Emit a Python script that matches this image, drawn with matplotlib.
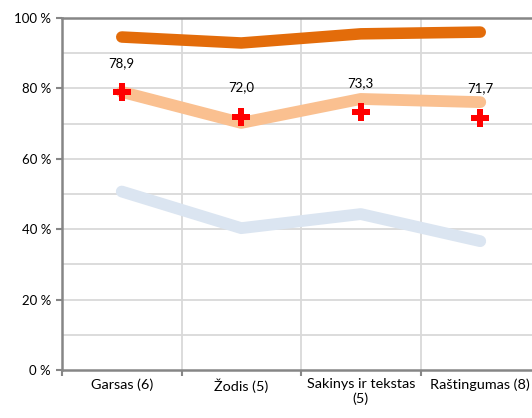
import matplotlib
matplotlib.use("Agg")
import matplotlib.pyplot as plt
import numpy as np

categories = ["Garsas (6)", "Žodis (5)", "Sakinys ir tekstas\n(5)", "Raštingumas (8)"]
dark_orange = [94.6, 92.9, 95.5, 96.0]
light_orange = [79.0, 70.2, 77.0, 76.1]
light_blue = [50.7, 40.3, 44.3, 36.6]
red_marks = [78.9, 72.0, 73.3, 71.7]
red_labels = ["78,9", "72,0", "73,3", "71,7"]
yticks = [0, 20, 40, 60, 80, 100]
ytick_labels = ["0 %", "20 %", "40 %", "60 %", "80 %", "100 %"]

plt.rcParams['font.family'] = ['Lato', 'DejaVu Sans']

fig = plt.figure(figsize=(5.32, 4.18), dpi=100)
ax = fig.add_axes([62/532, 48/418, 478/532, 352/418])

x = np.arange(len(categories))
ax.set_xlim(-0.5, 3.5)
ax.set_ylim(0, 100)

# gridlines
for yv in range(10, 101, 10):
    ax.axhline(yv, color="#d9d9d9", lw=1.3, zorder=0)
for xv in [0.5, 1.5, 2.5]:
    ax.axvline(xv, color="#d9d9d9", lw=1.3, zorder=0)

ax.plot(x, light_blue, color="#dbe5f1", lw=8.5, solid_capstyle="round", solid_joinstyle="round", zorder=2)
ax.plot(x, light_orange, color="#fac090", lw=8.5, solid_capstyle="round", solid_joinstyle="round", zorder=2)
ax.plot(x, dark_orange, color="#e36c0a", lw=8.3, solid_capstyle="round", solid_joinstyle="round", zorder=2)
ax.plot(x, red_marks, linestyle="none", marker="P", markersize=13, color="#ff0000",
        markeredgewidth=0, zorder=3)
for xi, yv, lab in zip(x, red_marks, red_labels):
    ax.annotate(lab, (xi, yv), xytext=(0, 21), textcoords="offset points",
                ha="center", va="center", fontsize=9.5, color="#000000")

ax.set_yticks(yticks)
ax.set_yticklabels(ytick_labels)
ax.set_xticks(x)
ax.set_xticklabels(categories, fontsize=10.4)
ax.set_xticks([-0.5, 0.5, 1.5, 2.5, 3.5], minor=True)
ax.tick_params(axis="x", which="major", length=0, pad=6)
ax.tick_params(axis="x", which="minor", length=4, width=1.5, color="#868686")
ax.tick_params(axis="y", length=4, width=1.5, color="#868686", labelsize=9.5, pad=4)

for s in ["left", "bottom", "top"]:
    ax.spines[s].set_color("#868686")
    ax.spines[s].set_linewidth(1.8)
ax.spines["right"].set_visible(False)

fig.savefig("out.png", dpi=100)
